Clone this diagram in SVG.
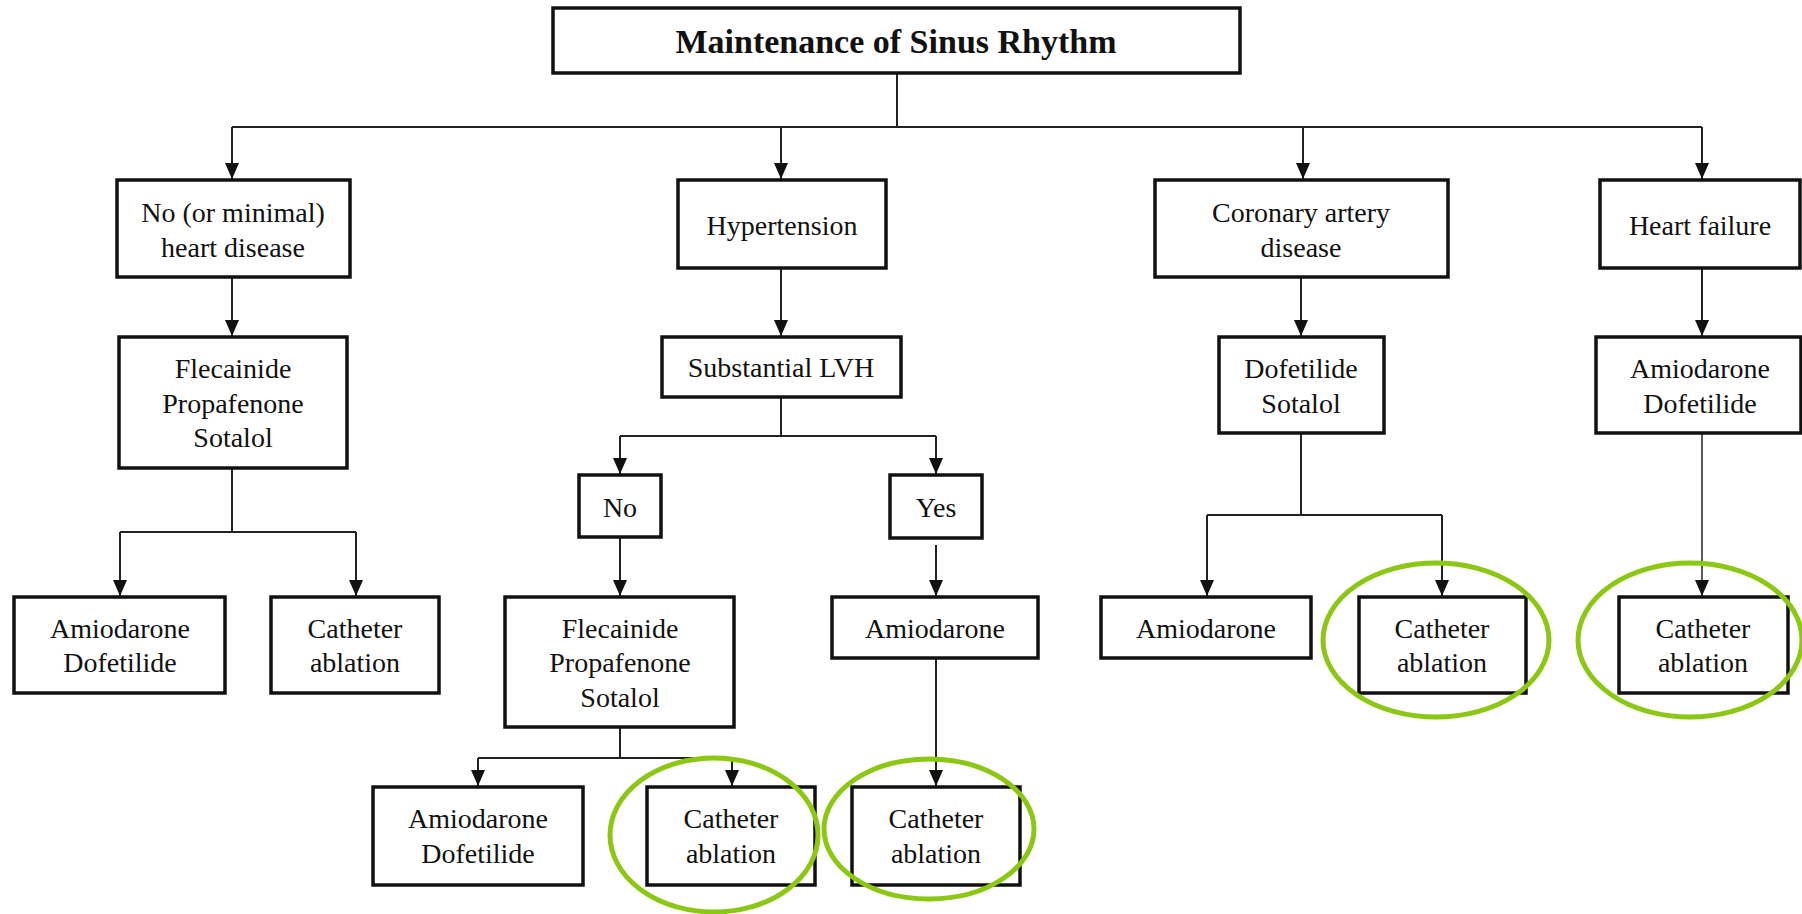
<svg xmlns="http://www.w3.org/2000/svg" width="1802" height="914" viewBox="0 0 1802 914">
<style>
.box{fill:#fff;stroke:#111;stroke-width:3.5}
.t{font-family:'Liberation Serif','Tinos','Noto Serif','DejaVu Serif','Times New Roman',serif;font-size:28px;fill:#111;text-anchor:middle}
.title{font-family:'Liberation Serif','Tinos','Noto Serif','DejaVu Serif','Times New Roman',serif;font-size:34px;font-weight:bold;fill:#111;text-anchor:middle}
.c{fill:none;stroke:#222;stroke-width:2}
.ca{fill:none;stroke:#222;stroke-width:2;marker-end:url(#arr)}
.hl{fill:none;stroke:#8cc714;stroke-width:5}
</style>
<defs>
<marker id="arr" viewBox="0 0 16 14" refX="16" refY="7" markerWidth="16" markerHeight="14" markerUnits="userSpaceOnUse" orient="auto">
<path d="M0,0 L16,7 L0,14 z" fill="#111"/>
</marker>
</defs>
<rect width="1802" height="914" fill="#fff"/>
<g id="connectors">
<path class="c" d="M897,74 V127 M232,127 H1702"/>
<path class="ca" d="M232,127 V179"/>
<path class="ca" d="M781,127 V179"/>
<path class="ca" d="M1303,127 V179"/>
<path class="ca" d="M1702,127 V179"/>
<path class="ca" d="M232,277 V336"/>
<path class="ca" d="M781,268 V336"/>
<path class="ca" d="M1301,277 V336"/>
<path class="ca" d="M1702,268 V336"/>
<path class="c" d="M232,468 V532 M120,532 H356"/>
<path class="ca" d="M120,532 V596"/>
<path class="ca" d="M356,532 V596"/>
<path class="c" d="M781,397 V436 M620,436 H936"/>
<path class="ca" d="M620,436 V474"/>
<path class="ca" d="M936,436 V474"/>
<path class="ca" d="M620,537 V596"/>
<path class="ca" d="M936,545 V596"/>
<path class="c" d="M620,727 V758 M478,758 H732"/>
<path class="ca" d="M478,758 V786"/>
<path class="ca" d="M732,758 V786"/>
<path class="ca" d="M936,658 V786"/>
<path class="c" d="M1301,433 V515 M1207,515 H1442"/>
<path class="ca" d="M1207,515 V596"/>
<path class="ca" d="M1442,515 V596"/>
<path class="ca" d="M1702,433 V596" style="stroke-width:1.5"/>
</g>
<g id="title"><rect class="box" x="553" y="8" width="687" height="65"/><text class="title" x="896" y="53">Maintenance of Sinus Rhythm</text></g>
<g id="no-heart-disease"><rect class="box" x="117" y="180" width="233" height="97"/><text class="t" x="233" y="222">No (or minimal)</text><text class="t" x="233" y="257">heart disease</text></g>
<g id="hypertension"><rect class="box" x="678" y="180" width="208" height="88"/><text class="t" x="782" y="235">Hypertension</text></g>
<g id="cad"><rect class="box" x="1155" y="180" width="293" height="97"/><text class="t" x="1301" y="222">Coronary artery</text><text class="t" x="1301" y="257">disease</text></g>
<g id="heart-failure"><rect class="box" x="1600" y="180" width="200" height="88"/><text class="t" x="1700" y="235">Heart failure</text></g>
<g id="flec1"><rect class="box" x="119" y="337" width="228" height="131"/><text class="t" x="233" y="378">Flecainide</text><text class="t" x="233" y="413">Propafenone</text><text class="t" x="233" y="447">Sotalol</text></g>
<g id="lvh"><rect class="box" x="662" y="337" width="239" height="60"/><text class="t" x="781" y="377">Substantial LVH</text></g>
<g id="dof-sot"><rect class="box" x="1219" y="337" width="165" height="96"/><text class="t" x="1301" y="378">Dofetilide</text><text class="t" x="1301" y="413">Sotalol</text></g>
<g id="amio-dof-hf"><rect class="box" x="1596" y="337" width="205" height="96"/><text class="t" x="1700" y="378">Amiodarone</text><text class="t" x="1700" y="413">Dofetilide</text></g>
<g id="no"><rect class="box" x="579" y="475" width="82" height="62"/><text class="t" x="620" y="517">No</text></g>
<g id="yes"><rect class="box" x="890" y="475" width="92" height="63"/><text class="t" x="936" y="517">Yes</text></g>
<g id="amio-dof-1"><rect class="box" x="14" y="597" width="211" height="96"/><text class="t" x="120" y="638">Amiodarone</text><text class="t" x="120" y="672">Dofetilide</text></g>
<g id="cath-1"><rect class="box" x="271" y="597" width="168" height="96"/><text class="t" x="355" y="638">Catheter</text><text class="t" x="355" y="672">ablation</text></g>
<g id="flec2"><rect class="box" x="505" y="597" width="229" height="130"/><text class="t" x="620" y="638">Flecainide</text><text class="t" x="620" y="672">Propafenone</text><text class="t" x="620" y="707">Sotalol</text></g>
<g id="amio-yes"><rect class="box" x="832" y="597" width="206" height="61"/><text class="t" x="935" y="638">Amiodarone</text></g>
<g id="amio-cad"><rect class="box" x="1101" y="597" width="210" height="61"/><text class="t" x="1206" y="638">Amiodarone</text></g>
<g id="cath-cad"><rect class="box" x="1359" y="597" width="167" height="96"/><text class="t" x="1442" y="638">Catheter</text><text class="t" x="1442" y="672">ablation</text></g>
<g id="cath-hf"><rect class="box" x="1619" y="597" width="169" height="96"/><text class="t" x="1703" y="638">Catheter</text><text class="t" x="1703" y="672">ablation</text></g>
<g id="amio-dof-2"><rect class="box" x="373" y="787" width="210" height="98"/><text class="t" x="478" y="828">Amiodarone</text><text class="t" x="478" y="863">Dofetilide</text></g>
<g id="cath-2"><rect class="box" x="647" y="787" width="168" height="98"/><text class="t" x="731" y="828">Catheter</text><text class="t" x="731" y="863">ablation</text></g>
<g id="cath-3"><rect class="box" x="852" y="787" width="168" height="98"/><text class="t" x="936" y="828">Catheter</text><text class="t" x="936" y="863">ablation</text></g>
<g id="highlights">
<ellipse class="hl" cx="714" cy="835" rx="104" ry="77"/>
<ellipse class="hl" cx="929" cy="829" rx="105" ry="70"/>
<ellipse class="hl" cx="1436" cy="640" rx="113" ry="77"/>
<ellipse class="hl" cx="1690" cy="640" rx="112" ry="77"/>
</g>
</svg>
